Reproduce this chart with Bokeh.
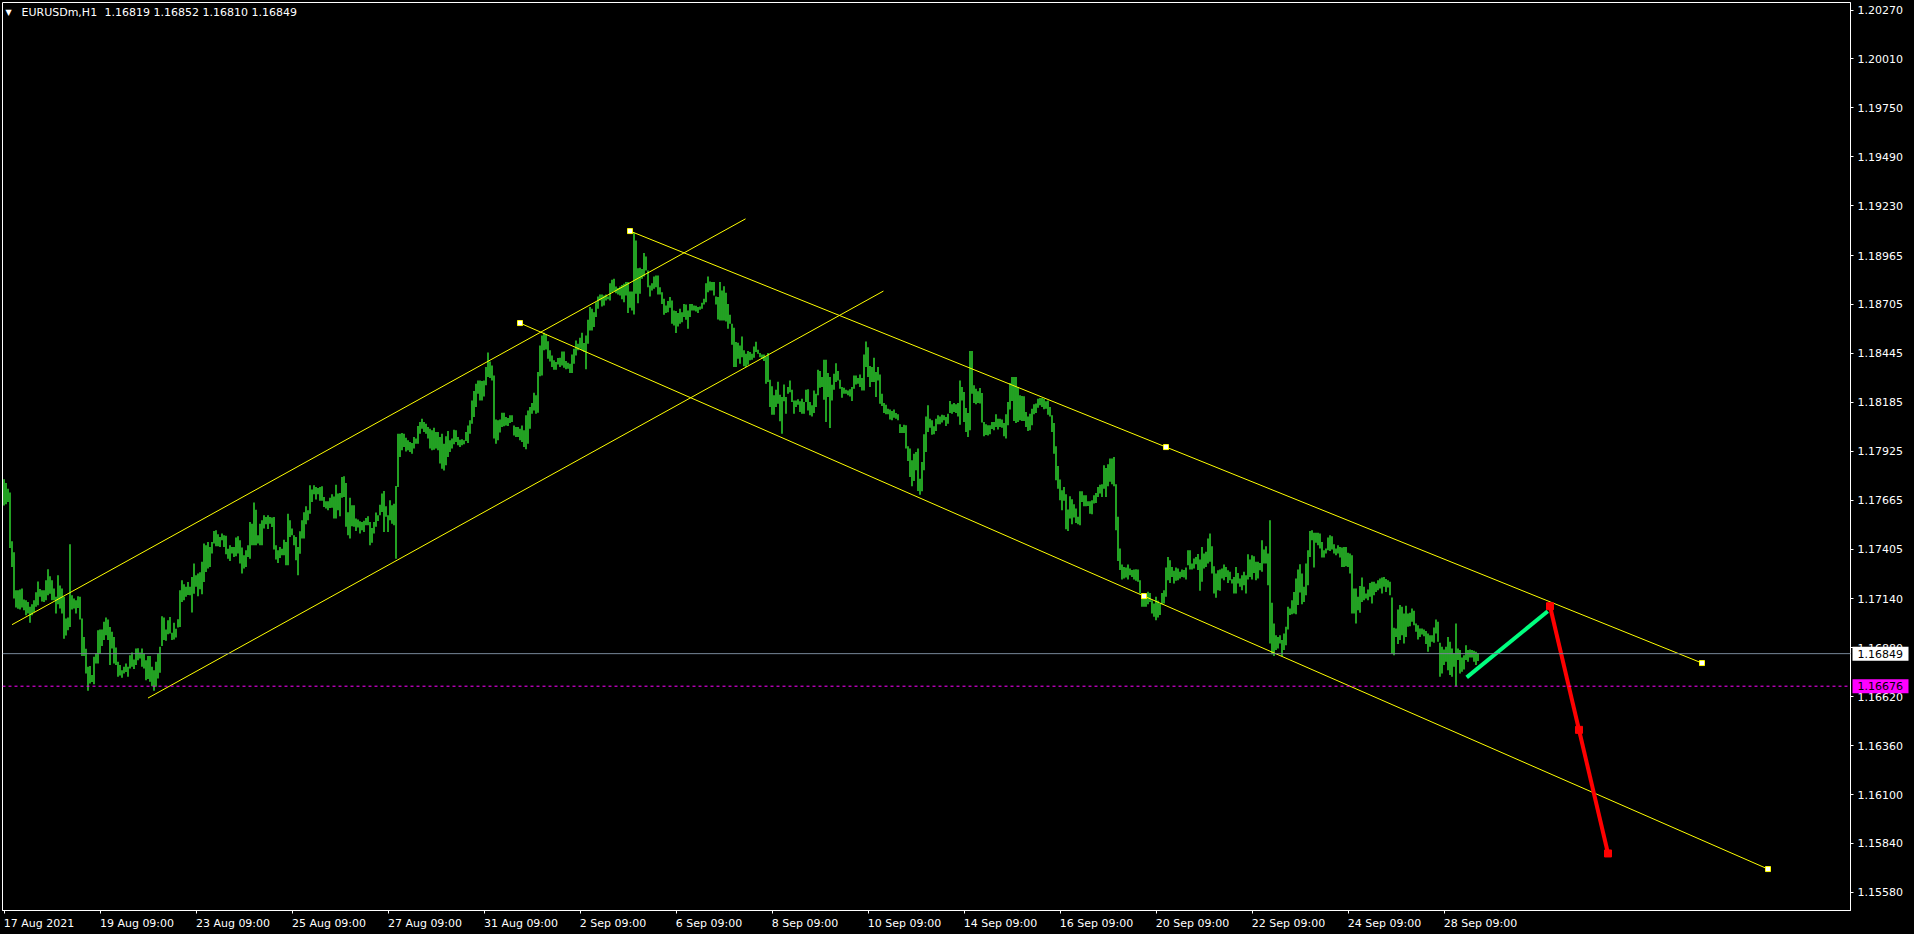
import numpy as np
from bokeh.plotting import figure
from bokeh.models import (Range1d, FixedTicker, PrintfTickFormatter, Span, Label,
                          ColumnDataSource, LinearAxis)
from bokeh.core.properties import value
from bokeh.embed import file_html
from bokeh.resources import INLINE

# ---------------- data (prices; bar lists in points = price * 1e5) ----------------
SYMBOL = "EURUSDm,H1"
LAST_OHLC = ["1.16819", "1.16852", "1.16810", "1.16849"]
BID_PRICE = 1.16849
MARK_PRICE = 1.16676

HIGH_PTS = [
    117776, 117756, 117726, 117706, 117446, 117388, 117186, 117186, 117190, 117195,
    117137, 117133, 117124, 117098, 117112, 117133, 117175, 117232, 117193, 117186,
    117186, 117239, 117298, 117260, 117239, 117195, 117151, 117266, 117211, 117195,
    117151, 117036, 117041, 117430, 117160, 117142, 117133, 117154, 117151, 117036,
    116938, 116875, 116779, 116784, 116735, 116832, 116850, 116974, 116977, 116977,
    117018, 117041, 117030, 116991, 116965, 116938, 116882, 116806, 116788, 116761,
    116779, 116797, 116779, 116841, 116855, 116818, 116876, 116878, 116855, 116876,
    116850, 116814, 116836, 116836, 116779, 116761, 116806, 116850, 116885, 117048,
    117041, 116977, 117027, 117044, 116960, 117013, 116981, 117032, 117186, 117239,
    117218, 117204, 117230, 117204, 117257, 117328, 117266, 117275, 117282, 117337,
    117434, 117425, 117443, 117416, 117443, 117501, 117505, 117483, 117469, 117487,
    117478, 117475, 117407, 117425, 117416, 117416, 117466, 117473, 117452, 117413,
    117372, 117398, 117425, 117549, 117540, 117653, 117614, 117478, 117540, 117558,
    117584, 117575, 117584, 117575, 117572, 117575, 117425, 117398, 117416, 117407,
    117455, 117443, 117593, 117558, 117514, 117478, 117469, 117416, 117500,
    117558, 117600, 117632, 117611, 117744, 117721, 117744, 117735, 117730, 117735,
    117739, 117682, 117659, 117659, 117677, 117696, 117684, 117747, 117700, 117703,
    117788, 117792, 117756, 117600, 117677, 117638, 117638, 117567, 117562, 117553,
    117549, 117556, 117570, 117579, 117549, 117517, 117549, 117599, 117585, 117641,
    117700, 117714, 117632, 117585, 117664, 117638, 117646, 117740, 118018, 118018,
    118022, 118018, 117997, 117983, 117974, 117969, 118000, 117992, 118059, 118080,
    118098, 118080, 118071, 118054, 118045, 118036, 118050, 118027, 118027, 118000,
    118018, 117965, 118004, 118032, 117983, 117992, 118039, 118036, 118000, 117986,
    117988, 117983, 118027, 118062, 118089, 118195, 118245, 118284, 118301, 118301,
    118298, 118301, 118372, 118450, 118402, 118381, 118328, 118093, 118089, 118094,
    118130, 118130, 118107, 118101, 118116, 118116, 118062, 118054, 118054, 118045,
    118062, 118036, 118116, 118142, 118160, 118181, 118236, 118222, 118346, 118487,
    118540, 118555, 118544, 118510, 118461, 118434, 118408, 118399, 118420, 118422,
    118455, 118455, 118404, 118395, 118390, 118439, 118470, 118514, 118496, 118528,
    118555, 118500, 118540, 118624, 118691, 118682, 118664, 118717, 118747, 118758,
    118758, 118753, 118758, 118747, 118818, 118836, 118841, 118801, 118792, 118801,
    118809, 118815, 118824, 118824, 118774, 118774, 119086, 119045, 118898, 118900,
    118894, 118979, 118960, 118885, 118806, 118818, 118854, 118859, 118859, 118797,
    118770, 118735, 118700, 118723, 118744, 118726, 118673, 118670, 118659, 118682,
    118664, 118708, 118705, 118673, 118708, 118708, 118700, 118698, 118691, 118694,
    118714, 118735, 118818, 118854, 118827, 118824, 118824, 118747, 118744, 118824,
    118779, 118802, 118767, 118708, 118650, 118602, 118581, 118505, 118501, 118487,
    118535, 118461, 118443, 118457, 118452, 118443, 118482, 118507, 118464, 118447,
    118439, 118439, 118429, 118447, 118305, 118270, 118222, 118252, 118294, 118225,
    118213, 118280, 118213, 118266, 118301, 118252, 118195, 118195, 118201, 118190,
    118204, 118186, 118252, 118254, 118186, 118169, 118248, 118231, 118358, 118351,
    118319, 118411, 118411, 118340, 118319, 118278, 118337, 118393, 118351, 118305,
    118266, 118262, 118252, 118248, 118254, 118266, 118328, 118328, 118314, 118333,
    118314, 118439, 118508, 118478, 118378, 118372, 118422, 118346, 118372, 118333,
    118231, 118181, 118172, 118151, 118146, 118139, 118146, 118128, 118121, 118068,
    118054, 118066, 118063, 117951, 117939, 117877, 117912, 117921, 117939, 117779,
    117868, 118015, 118110, 118169, 118098, 118089, 118057, 118098, 118116, 118110,
    118119, 118116, 118107, 118124, 118192, 118174, 118181, 118174, 118181, 118301,
    118266, 118240, 118155, 118128, 118457, 118457, 118275, 118257, 118243, 118261,
    118234, 118080, 118068, 118063, 118063, 118080, 118080, 118121, 118098, 118098,
    118093, 118075, 118121, 118186, 118287, 118319, 118319, 118319, 118266, 118222,
    118218, 118217, 118133, 118110, 118124, 118151, 118174, 118178, 118204, 118208,
    118208, 118204, 118190, 118195, 118160, 118116, 118075, 117951, 117847, 117774,
    117717, 117735, 117696, 117615, 117686, 117670, 117643, 117620, 117576, 117712,
    117712, 117691, 117691, 117659, 117659, 117664, 117691, 117703, 117735, 117747,
    117749, 117850, 117836, 117855, 117886, 117886, 117894, 117749, 117576, 117408,
    117323, 117310, 117307, 117323, 117301, 117293, 117296, 117298, 117296, 117239,
    117169, 117160, 117146, 117178, 117172, 117133, 117116, 117151, 117130, 117116,
    117172, 117186, 117307, 117363, 117346, 117310, 117289, 117307, 117301, 117284,
    117296, 117293, 117307, 117399, 117399, 117328, 117355, 117363, 117378, 117349,
    117416, 117381, 117390, 117461, 117487, 117420, 117314, 117275, 117292, 117296,
    117301, 117323, 117310, 117292, 117284, 117245, 117257, 117310, 117278, 117248,
    117266, 117284, 117266, 117377, 117349, 117372, 117367, 117337, 117337, 117331,
    117452, 117402, 117420, 117381, 117558, 117119, 117009, 116947, 116938, 116947,
    116921, 116956, 116992, 117098, 117089, 117133, 117177, 117248, 117296, 117324,
    117275, 117204, 117328, 117399, 117501, 117505, 117491, 117491, 117491, 117487,
    117443, 117399, 117408, 117466, 117478, 117473, 117431, 117408, 117425, 117416,
    117413, 117416, 117416, 117385, 117381, 117372, 117195, 117195, 117151, 117208,
    117254, 117204, 117169, 117190, 117225, 117231, 117231, 117222, 117239, 117248,
    117254, 117257, 117246, 117239, 117231, 117147, 116986, 116983, 117084, 117107,
    117098, 117062, 117103, 117062, 117066, 117089, 117077, 117009, 117000, 116983,
    116983, 116977, 116970, 116956, 116947, 116947, 116988, 117031, 117018, 116907,
    116885, 116871, 116885, 116938, 116912, 116877, 116850, 117009, 116877, 116868,
    116829, 116841, 116894, 116868, 116871, 116868, 116864, 116859, 116852,
]

LOW_PTS = [
    117637, 117643, 117655, 117411, 117310, 117142, 117094, 117087, 117083, 117094,
    117080, 117053, 117062, 117013, 117053, 117071, 117098, 117106, 117151, 117126,
    117124, 117133, 117160, 117168, 117133, 117133, 117062, 117112, 117089, 117062,
    116928, 116945, 116974, 116991, 117083, 117089, 117062, 117092, 117030, 116836,
    116836, 116744, 116652, 116690, 116698, 116687, 116797, 116797, 116850, 116889,
    116921, 116947, 116921, 116788, 116876, 116797, 116788, 116726, 116733, 116721,
    116744, 116752, 116726, 116770, 116779, 116767, 116788, 116814, 116823, 116779,
    116770, 116708, 116714, 116699, 116676, 116652, 116673, 116717, 116747, 116889,
    116921, 116917, 116952, 116956, 116921, 116924, 116935, 116988, 116991, 117124,
    117133, 117151, 117161, 117160, 117068, 117168, 117204, 117154, 117191, 117165,
    117230, 117283, 117301, 117310, 117381, 117434, 117420, 117420, 117416, 117452,
    117416, 117377, 117354, 117342, 117381, 117363, 117367, 117381, 117328, 117275,
    117301, 117310, 117363, 117354, 117425, 117425, 117425, 117434, 117425, 117425,
    117514, 117537, 117512, 117540, 117522, 117402, 117349, 117331, 117358, 117372,
    117372, 117319, 117319, 117469, 117478, 117425, 117345, 117266, 117380,
    117461, 117461, 117537, 117558, 117593, 117655, 117696, 117668, 117696, 117661,
    117661, 117629, 117620, 117611, 117623, 117625, 117567, 117567, 117611, 117579,
    117678, 117682, 117523, 117478, 117461, 117526, 117523, 117501, 117519, 117487,
    117505, 117496, 117531, 117531, 117425, 117438, 117487, 117523, 117554, 117585,
    117602, 117496, 117576, 117496, 117558, 117540, 117531, 117354, 117735, 117894,
    117930, 117947, 117924, 117930, 117921, 117912, 117939, 117965, 117965, 118018,
    118045, 118027, 118018, 117992, 117939, 117930, 117933, 117939, 117930, 117859,
    117832, 117823, 117850, 117894, 117921, 117939, 117962, 117974, 117956, 117947,
    117956, 117962, 117979, 117969, 118018, 118071, 118107, 118160, 118231, 118195,
    118195, 118216, 118275, 118319, 118314, 118301, 117992, 117965, 117983, 118024,
    118054, 118057, 118062, 118059, 118075, 118080, 118009, 118000, 118000, 117983,
    117974, 117947, 117935, 117965, 118045, 118124, 118142, 118124, 118130, 118324,
    118328, 118461, 118466, 118416, 118402, 118372, 118358, 118358, 118386, 118372,
    118381, 118369, 118360, 118363, 118340, 118340, 118390, 118434, 118461, 118470,
    118461, 118452, 118360, 118496, 118567, 118567, 118585, 118638, 118682, 118726,
    118694, 118700, 118726, 118733, 118726, 118770, 118776, 118765, 118758, 118753,
    118732, 118717, 118753, 118659, 118687, 118673, 118652, 118762, 118712, 118762,
    118841, 118854, 118885, 118797, 118747, 118779, 118788, 118797, 118758, 118758,
    118708, 118650, 118659, 118664, 118687, 118602, 118593, 118553, 118588, 118602,
    118611, 118638, 118624, 118576, 118638, 118673, 118673, 118668, 118659, 118677,
    118682, 118705, 118717, 118770, 118779, 118779, 118753, 118705, 118625, 118620,
    118620, 118620, 118615, 118576, 118602, 118491, 118372, 118372, 118416, 118390,
    118425, 118376, 118372, 118385, 118408, 118411, 118422, 118452, 118443, 118425,
    118416, 118404, 118284, 118293, 118160, 118119, 118119, 118160, 118177, 118084,
    118018, 118190, 118124, 118231, 118239, 118186, 118124, 118160, 118172, 118133,
    118124, 118124, 118186, 118142, 118116, 118110, 118128, 118160, 118222, 118262,
    118266, 118199, 118080, 118213, 118048, 118195, 118252, 118293, 118301, 118257,
    118209, 118231, 118231, 118222, 118216, 118192, 118257, 118280, 118284, 118266,
    118248, 118248, 118372, 118319, 118266, 118293, 118293, 118213, 118301, 118177,
    118165, 118128, 118121, 118121, 118093, 118089, 118103, 118098, 118089, 118022,
    118022, 118022, 117939, 117873, 117788, 117739, 117767, 117824, 117714, 117694,
    117712, 117824, 117921, 118027, 118050, 118013, 118015, 118032, 118068, 118068,
    118077, 118089, 118059, 118071, 118128, 118124, 118133, 118128, 118110, 118066,
    118195, 118080, 118027, 118001, 118036, 118231, 118181, 118174, 118181, 118178,
    118077, 118004, 118011, 118009, 118015, 118043, 118036, 118054, 118040, 118054,
    118050, 118004, 117992, 118063, 118146, 118192, 118086, 118075, 118080, 118089,
    118086, 118086, 118054, 118032, 118036, 118063, 118121, 118128, 118156, 118169,
    118160, 118148, 118151, 118119, 118110, 118027, 117912, 117770, 117726, 117664,
    117611, 117661, 117510, 117501, 117567, 117537, 117572, 117544, 117537, 117532,
    117655, 117632, 117632, 117634, 117593, 117590, 117647, 117650, 117682, 117700,
    117682, 117726, 117682, 117739, 117762, 117749, 117739, 117505, 117342, 117293,
    117243, 117248, 117254, 117243, 117266, 117257, 117243, 117236, 117231, 117169,
    117098, 117098, 117098, 117112, 117124, 117062, 117045, 117027, 117041, 117054,
    117112, 117116, 117151, 117239, 117225, 117257, 117222, 117236, 117239, 117248,
    117257, 117254, 117243, 117319, 117296, 117296, 117301, 117324, 117293, 117183,
    117231, 117301, 117310, 117328, 117337, 117275, 117169, 117146, 117186, 117183,
    117248, 117239, 117257, 117225, 117239, 117222, 117169, 117169, 117222, 117204,
    117186, 117213, 117169, 117243, 117257, 117243, 117278, 117239, 117248, 117292,
    117284, 117328, 117328, 117213, 116903, 116846, 116836, 116868, 116877, 116903,
    116836, 116868, 116894, 116977, 117054, 117059, 117062, 117059, 117107, 117174,
    117112, 117124, 117160, 117213, 117363, 117452, 117307, 117438, 117425, 117408,
    117360, 117360, 117381, 117399, 117395, 117402, 117381, 117372, 117381, 117360,
    117310, 117310, 117314, 117310, 117275, 117062, 117062, 117009, 117080, 117066,
    117124, 117133, 117142, 117133, 117151, 117115, 117160, 117177, 117186, 117195,
    117169, 117204, 117177, 117200, 117160, 116850, 116841, 116938, 116900, 116921,
    116947, 116903, 116938, 116992, 116995, 117018, 117000, 116965, 116924, 116938,
    116951, 116942, 116900, 116859, 116885, 116912, 116907, 116956, 116912, 116726,
    116744, 116788, 116806, 116761, 116735, 116726, 116779, 116676, 116815, 116744,
    116753, 116765, 116815, 116806, 116829, 116829, 116806, 116788, 116810,
]

X_TICK_BARS = [0, 48, 96, 144, 192, 240, 288, 336, 384, 432, 480, 528, 576, 624, 672, 720]
X_TICK_LABELS = ["17 Aug 2021", "19 Aug 09:00", "23 Aug 09:00", "25 Aug 09:00",
                 "27 Aug 09:00", "31 Aug 09:00", "2 Sep 09:00", "6 Sep 09:00",
                 "8 Sep 09:00", "10 Sep 09:00", "14 Sep 09:00", "16 Sep 09:00",
                 "20 Sep 09:00", "22 Sep 09:00", "24 Sep 09:00", "28 Sep 09:00"]
Y_TICKS = [1.20270, 1.20010, 1.19750, 1.19490, 1.19230, 1.18965, 1.18705, 1.18445,
           1.18185, 1.17925, 1.17665, 1.17405, 1.17140, 1.16880, 1.16620, 1.16360,
           1.16100, 1.15840, 1.15580]

# trendlines: (bar index, price)
TREND_X0 = [4.0, 72.0, 313.0, 258.0]
TREND_Y0 = [1.17003, 1.16613, 1.19095, 1.18606]
TREND_X1 = [370.75, 439.7, 849.0, 882.0]
TREND_Y1 = [1.19160, 1.18776, 1.16799, 1.15704]
TREND_SELECTED = [False, False, True, True]

RED_X = [773.0, 802.0]
RED_Y = [1.17101, 1.15787]
GREEN_X = [731.35, 771.85]
GREEN_Y = [1.16723, 1.17074]

# ---------------- figure ----------------
BG = "black"
FG = "white"
BAR_COLOR = "#32E632"
YELLOW = "#FFFF00"
FONT = "DejaVu Sans"
FONT_PX = 11
PX_PER_BAR = 2.0

p = figure(width=1914, height=934, output_backend="svg", toolbar_location=None,
           x_range=Range1d(-0.75, 923.25), y_range=Range1d(1.154838, 1.203099),
           y_axis_location="right", min_border_left=2, min_border_right=64,
           min_border_top=2, min_border_bottom=24,
           background_fill_color=BG, border_fill_color=BG,
           outline_line_color=FG, outline_line_width=1)
p.grid.visible = False

n = min(len(HIGH_PTS), len(LOW_PTS))
idx = np.arange(n)
hi = np.array(HIGH_PTS[:n]) / 1e5
lo = np.array(LOW_PTS[:n]) / 1e5
bars = ColumnDataSource(dict(x=idx, hi=hi, lo=lo))
p.segment(x0="x", y0="lo", x1="x", y1="hi", source=bars, line_color=BAR_COLOR, line_width=1.4)

# horizontal price lines
p.add_layout(Span(location=BID_PRICE, dimension="width", line_color="#778899", line_width=1))
p.add_layout(Span(location=MARK_PRICE, dimension="width", line_color="#FF00FF",
                  line_width=1, line_dash="3 3"))

# yellow trendlines
p.segment(x0=TREND_X0, y0=TREND_Y0, x1=TREND_X1, y1=TREND_Y1, line_color=YELLOW, line_width=1)
mx, my = [], []
for x0, y0, x1, y1, sel in zip(TREND_X0, TREND_Y0, TREND_X1, TREND_Y1, TREND_SELECTED):
    if sel:
        mx += [x0, (x0 + x1) / 2, x1]
        my += [y0, (y0 + y1) / 2, y1]
p.scatter(mx, my, marker="square", size=5, fill_color="white", line_color=YELLOW, line_width=1)

# green and red lines
p.segment(x0=[GREEN_X[0]], y0=[GREEN_Y[0]], x1=[GREEN_X[1]], y1=[GREEN_Y[1]],
          line_color="#00FF7F", line_width=4)
p.segment(x0=[RED_X[0]], y0=[RED_Y[0]], x1=[RED_X[1]], y1=[RED_Y[1]],
          line_color="#FF0000", line_width=4)
rx = [RED_X[0], (RED_X[0] + RED_X[1]) / 2, RED_X[1]]
ry = [RED_Y[0], (RED_Y[0] + RED_Y[1]) / 2, RED_Y[1]]
p.scatter(rx, ry, marker="square", size=7, fill_color="#FF0000", line_color="#FF0000")

# ---------------- axes ----------------
p.yaxis.ticker = FixedTicker(ticks=Y_TICKS)
p.yaxis.formatter = PrintfTickFormatter(format="%.5f")
p.yaxis.major_label_standoff = 4

# x axis 1: tick marks only at the bar positions
p.xaxis.ticker = FixedTicker(ticks=X_TICK_BARS)
p.xaxis.major_label_overrides = {b: "" for b in X_TICK_BARS}
p.xaxis.major_label_text_font_size = "0px"
p.xaxis.major_label_standoff = 0

for ax in (p.xaxis[0], p.yaxis[0]):
    ax.axis_line_color = FG
    ax.major_tick_line_color = FG
    ax.minor_tick_line_color = None
    ax.major_tick_in = 0
    ax.major_tick_out = 3
    ax.major_label_text_color = FG
    ax.major_label_text_font = FONT
ax = p.yaxis[0]
ax.major_label_text_font_size = "%dpx" % FONT_PX

# x axis 2: the labels, left-aligned at each tick (shift the label centre by half its width)
CHAR_EM = {"0": .636, "1": .636, "2": .636, "3": .636, "4": .636, "5": .636, "6": .636,
           "7": .636, "8": .636, "9": .636, " ": .318, ":": .337, "A": .684, "u": .634,
           "g": .635, "S": .635, "e": .615, "p": .635}


def label_width(s):
    return sum(CHAR_EM.get(c, .6) for c in s) * FONT_PX


centers = [b + round(label_width(s) / 2 / PX_PER_BAR * 4) / 4
           for b, s in zip(X_TICK_BARS, X_TICK_LABELS)]
lab_axis = LinearAxis(ticker=FixedTicker(ticks=centers),
                      major_label_overrides={c: s for c, s in zip(centers, X_TICK_LABELS)},
                      axis_line_color=None, major_tick_line_color=None,
                      minor_tick_line_color=None, major_tick_in=0, major_tick_out=0,
                      major_label_standoff=3, major_label_text_color=FG,
                      major_label_text_font=FONT, major_label_text_font_size="%dpx" % FONT_PX)
p.add_layout(lab_axis, "below")

# ---------------- price tags on the price axis ----------------
tag_x_box = (1880 - 3.5) / PX_PER_BAR    # centre of tag box, right of the frame
tag_x_text = (1857 - 3.5) / PX_PER_BAR
tags = ColumnDataSource(dict(y=[BID_PRICE, MARK_PRICE],
                             text=["%.5f" % BID_PRICE, "%.5f" % MARK_PRICE],
                             fill=["white", "#FF00FF"]))
p.rect(x=tag_x_box, y="y", width=56, height=14, width_units="screen", height_units="screen",
       fill_color="fill", line_color=None, source=tags, level="overlay")
p.text(x=tag_x_text, y="y", text="text", text_color="black", text_font=value(FONT),
       text_font_size="%dpx" % FONT_PX, text_align="left", text_baseline="middle",
       source=tags, level="overlay")

# ---------------- header ----------------
p.add_layout(Label(x=0.75, y=1.20257, text="\u25bc", text_align="left", text_baseline="middle",
                   text_color=FG, text_font=FONT, text_font_size="8px"))
p.add_layout(Label(x=8.75, y=1.20257, text=SYMBOL, text_align="left", text_baseline="middle",
                   text_color=FG, text_font=FONT, text_font_size="11px"))
p.add_layout(Label(x=50.25, y=1.20257, text=" ".join(LAST_OHLC), text_align="left",
                   text_baseline="middle", text_color=FG, text_font=FONT, text_font_size="11px"))

html = file_html(p, INLINE)
html = html.replace("<head>", "<head><style>html,body{margin:0;padding:0;background:#000;overflow:hidden}</style>", 1)
open("out.html", "w").write(html)
